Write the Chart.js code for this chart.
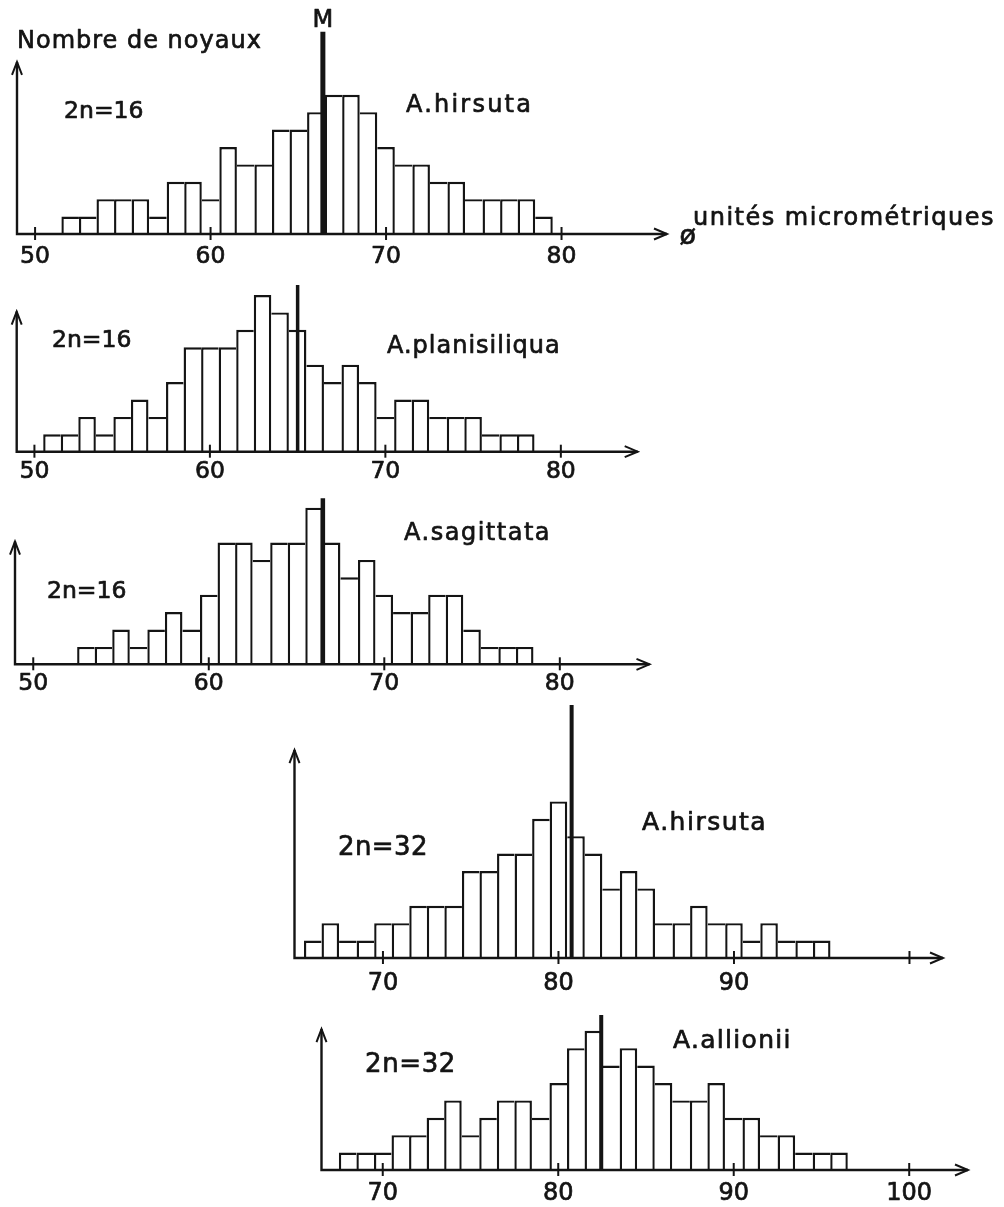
<!DOCTYPE html>
<html>
<head>
<meta charset="utf-8">
<title>Noyaux - Arabis</title>
<script src="https://cdn.jsdelivr.net/npm/chart.js@4.4.1/dist/chart.umd.min.js"></script>
<style>
  body { margin: 0; background: #fff; }
  #page { position: relative; width: 1004px; height: 1207px; overflow: hidden; }
  #page canvas { position: absolute; left: 0; }
</style>
</head>
<body>
<div id="page"></div>
<script>
// --- data (counts per 1-unit class, class centre) ---
const hirsuta16Bins = [52, 53, 54, 55, 56, 57, 58, 59, 60, 61, 62, 63, 64, 65, 66, 67, 68, 69, 70, 71, 72, 73, 74, 75, 76, 77, 78, 79];
const hirsuta16Counts = [1, 1, 2, 2, 2, 1, 3, 3, 2, 5, 4, 4, 6, 6, 7, 8, 8, 7, 5, 4, 4, 3, 3, 2, 2, 2, 2, 1];
const hirsuta16Mean = 66.4;

const planisiliquaBins = [51, 52, 53, 54, 55, 56, 57, 58, 59, 60, 61, 62, 63, 64, 65, 66, 67, 68, 69, 70, 71, 72, 73, 74, 75, 76, 77, 78];
const planisiliquaCounts = [1, 1, 2, 1, 2, 3, 2, 4, 6, 6, 6, 7, 9, 8, 7, 5, 4, 5, 4, 2, 3, 3, 2, 2, 2, 1, 1, 1];
const planisiliquaMean = 65.0;

const sagittataBins = [53, 54, 55, 56, 57, 58, 59, 60, 61, 62, 63, 64, 65, 66, 67, 68, 69, 70, 71, 72, 73, 74, 75, 76, 77, 78];
const sagittataCounts = [1, 1, 2, 1, 2, 3, 2, 4, 7, 7, 6, 7, 7, 9, 7, 5, 6, 4, 3, 3, 4, 4, 2, 1, 1, 1];
const sagittataMean = 66.5;

const hirsuta32Bins = [66, 67, 68, 69, 70, 71, 72, 73, 74, 75, 76, 77, 78, 79, 80, 81, 82, 83, 84, 85, 86, 87, 88, 89, 90, 91, 92, 93, 94, 95];
const hirsuta32Counts = [1, 2, 1, 1, 2, 2, 3, 3, 3, 5, 5, 6, 6, 8, 9, 7, 6, 4, 5, 4, 2, 2, 3, 2, 2, 1, 2, 1, 1, 1];
const hirsuta32Mean = 80.75;

const allioniiBins = [68, 69, 70, 71, 72, 73, 74, 75, 76, 77, 78, 79, 80, 81, 82, 83, 84, 85, 86, 87, 88, 89, 90, 91, 92, 93, 94, 95, 96];
const allioniiCounts = [1, 1, 1, 2, 2, 3, 4, 2, 3, 4, 4, 3, 5, 7, 8, 6, 7, 6, 5, 4, 4, 5, 3, 3, 2, 2, 1, 1, 1];
const allioniiMean = 82.45;

const ticks16 = [50, 60, 70, 80];
const ticks16Labels = ['50', '60', '70', '80'];
const ticks32 = [70, 80, 90, 100];
const ticks32LabelsA = ['70', '80', '90', ''];
const ticks32LabelsB = ['70', '80', '90', '100'];

const INK = '#141414';
const FONT = '"DejaVu Sans", sans-serif';
const LINE = 2.4;

// layout of the five panels (pixels for the canvas, axis units elsewhere)
const panels = [
    {
        top: 0, height: 280, padLeft: 17, padRight: 337, padBottom: 46,
        xMin: 48.97, xMax: 86.01, yMax: 13.45, yArrow: 9.89,
        bins: hirsuta16Bins, counts: hirsuta16Counts, mean: hirsuta16Mean, meanTop: 11.63, meanWidth: 5,
        ticks: ticks16, tickLabels: ticks16Labels, tickY: -1.67, tickSize: 23.5,
        texts: [
            { t: 'Nombre de noyaux', x: 48.97, y: 10.69, size: 24, sp: 1.0 },
            { t: 'M', x: hirsuta16Mean, y: 11.9, size: 24, sp: 0, align: 'center' },
            { t: '2n=16', x: 51.65, y: 6.67, size: 23.5, sp: 0 },
            { t: 'A.hirsuta', x: 71.14, y: 7.03, size: 24, sp: 2.2 },
            { t: 'unités micrométriques', x: 87.49, y: 0.52, size: 24, sp: 1.5 },
            { t: 'ø', x: 87.2, y: -0.6, size: 27, sp: 0, align: 'center' }
        ]
    },
    {
        top: 270, height: 220, padLeft: 16.7, padRight: 366.3, padBottom: 38.3,
        xMin: 48.99, xMax: 84.38, yMax: 10.44, yArrow: 8.05,
        bins: planisiliquaBins, counts: planisiliquaCounts, mean: planisiliquaMean, meanTop: 9.58, meanWidth: 3.5,
        ticks: ticks16, tickLabels: ticks16Labels, tickY: -1.52, tickSize: 23.5,
        texts: [
            { t: '2n=16', x: 51.0, y: 6.0, size: 23.5, sp: 0 },
            { t: 'A.planisiliqua', x: 70.09, y: 5.66, size: 24, sp: 1.0 }
        ]
    },
    {
        top: 480, height: 225, padLeft: 15, padRight: 354.5, padBottom: 40.7,
        xMin: 48.96, xMax: 85.11, yMax: 10.59, yArrow: 7.05,
        bins: sagittataBins, counts: sagittataCounts, mean: sagittataMean, meanTop: 9.54, meanWidth: 4.5,
        ticks: ticks16, tickLabels: ticks16Labels, tickY: -1.49, tickSize: 23.5,
        texts: [
            { t: '2n=16', x: 50.78, y: 3.79, size: 23.5, sp: 0 },
            { t: 'A.sagittata', x: 71.13, y: 7.14, size: 24, sp: 1.5 }
        ]
    },
    {
        top: 690, height: 310, padLeft: 294.5, padRight: 61, padBottom: 42,
        xMin: 64.96, xMax: 101.91, yMax: 15.4, yArrow: 11.95,
        bins: hirsuta32Bins, counts: hirsuta32Counts, mean: hirsuta32Mean, meanTop: 14.54, meanWidth: 4,
        ticks: ticks32, tickLabels: ticks32LabelsA, tickY: -1.84, tickSize: 24,
        texts: [
            { t: '2n=32', x: 67.44, y: 5.92, size: 26, sp: 0.4 },
            { t: 'A.hirsuta', x: 84.76, y: 7.36, size: 25, sp: 1.5 }
        ]
    },
    {
        top: 1000, height: 207, padLeft: 321.5, padRight: 36, padBottom: 37,
        xMin: 66.51, xMax: 103.35, yMax: 9.77, yArrow: 8.1,
        bins: allioniiBins, counts: allioniiCounts, mean: allioniiMean, meanTop: 8.91, meanWidth: 4,
        ticks: ticks32, tickLabels: ticks32LabelsB, tickY: -1.72, tickSize: 24,
        texts: [
            { t: '2n=32', x: 68.99, y: 5.65, size: 26, sp: 0.6 },
            { t: 'A.allionii', x: 86.54, y: 6.99, size: 25, sp: 1.3 }
        ]
    }
];

function drawText(ctx, str, x, y, size, spacing, align) {
    ctx.font = size + 'px ' + FONT;
    ctx.letterSpacing = spacing + 'px';
    ctx.textBaseline = 'alphabetic';
    ctx.textAlign = align || 'left';
    ctx.lineWidth = 0.7;
    ctx.lineJoin = 'round';
    ctx.fillText(str, x, y);
    ctx.strokeText(str, x, y);   // a bit heavier, like the stencil lettering
    ctx.letterSpacing = '0px';
}

// one line per class boundary, up to the taller of the two bars
function barBorder(c) {
    const h = c.dataset.data.map((d) => d.y);
    const i = c.dataIndex;
    const prev = i > 0 ? h[i - 1] : -1;
    const next = i < h.length - 1 ? h[i + 1] : -1;
    return {
        top: LINE,
        bottom: 0,
        left: prev <= h[i] ? LINE : 0,
        right: next < h[i] ? LINE : 0
    };
}

// hand-drawn style axes, ticks, mean line and labels
function paperPlugin(p) {
    return {
        id: 'paper',
        afterDatasetsDraw(chart) {
            const ctx = chart.ctx;
            const xs = chart.scales.x;
            const ys = chart.scales.y;
            const base = ys.getPixelForValue(0);
            const left = chart.chartArea.left;
            const right = chart.chartArea.right;
            const top = ys.getPixelForValue(p.yArrow);

            ctx.save();
            ctx.strokeStyle = INK;
            ctx.fillStyle = INK;
            ctx.lineWidth = LINE;

            ctx.beginPath();
            ctx.moveTo(left, top);
            ctx.lineTo(left, base);
            ctx.lineTo(right, base);
            ctx.stroke();

            ctx.lineWidth = 2;
            ctx.beginPath();
            ctx.moveTo(left - 5, top + 13);
            ctx.lineTo(left, top);
            ctx.lineTo(left + 5, top + 13);
            ctx.moveTo(right - 13, base - 5.5);
            ctx.lineTo(right, base);
            ctx.lineTo(right - 13, base + 5.5);
            ctx.stroke();

            p.ticks.forEach((t, i) => {
                const x = xs.getPixelForValue(t);
                ctx.lineWidth = 2;
                ctx.beginPath();
                ctx.moveTo(x, base - 7);
                ctx.lineTo(x, base + 6);
                ctx.stroke();
                if (p.tickLabels[i])
                    drawText(ctx, p.tickLabels[i], x, ys.getPixelForValue(p.tickY), p.tickSize, 0, 'center');
            });

            const mx = xs.getPixelForValue(p.mean);
            ctx.lineWidth = p.meanWidth;
            ctx.beginPath();
            ctx.moveTo(mx, ys.getPixelForValue(p.meanTop));
            ctx.lineTo(mx, base);
            ctx.stroke();

            p.texts.forEach((tx) => {
                drawText(ctx, tx.t, xs.getPixelForValue(tx.x), ys.getPixelForValue(tx.y), tx.size, tx.sp, tx.align);
            });
            ctx.restore();
        }
    };
}

const page = document.getElementById('page');

panels.forEach((p) => {
    const canvas = document.createElement('canvas');
    canvas.width = 1004;
    canvas.height = p.height;
    canvas.style.top = p.top + 'px';
    page.appendChild(canvas);

    new Chart(canvas.getContext('2d'), {
        type: 'bar',
        data: {
            datasets: [{
                data: p.bins.map((b, i) => ({ x: b, y: p.counts[i] })),
                backgroundColor: '#ffffff',
                borderColor: INK,
                borderWidth: barBorder,
                borderSkipped: false,
                inflateAmount: 0,
                barPercentage: 1,
                categoryPercentage: 1,
                clip: false
            }]
        },
        options: {
            responsive: false,
            animation: false,
            devicePixelRatio: 1,
            events: [],
            layout: { padding: { left: p.padLeft, right: p.padRight, top: 0, bottom: p.padBottom } },
            plugins: {
                legend: { display: false },
                tooltip: { enabled: false }
            },
            scales: {
                x: { type: 'linear', min: p.xMin, max: p.xMax, offset: false, display: false },
                y: { type: 'linear', min: 0, max: p.yMax, display: false }
            }
        },
        plugins: [paperPlugin(p)]
    });
});
</script>
</body>
</html>
